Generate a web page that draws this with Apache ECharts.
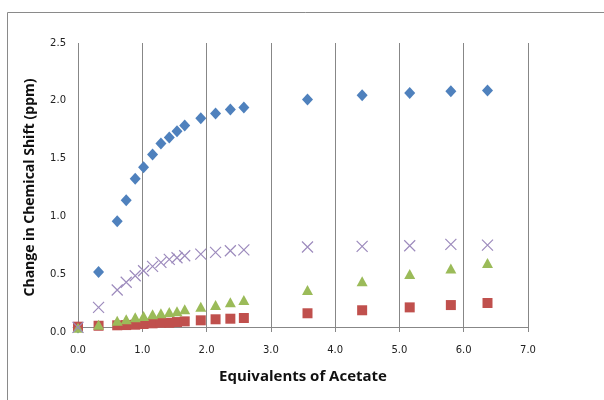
<!DOCTYPE html>
<html><head><meta charset="utf-8">
<script src="https://cdn.jsdelivr.net/npm/echarts@6/dist/echarts.min.js"></script>
<style>html,body{margin:0;padding:0;background:#fff}#c{width:604px;height:400px}</style>
</head><body><div id="c"></div>
<script>
const xVals = [0, 0.32, 0.61, 0.75, 0.89, 1.02, 1.16, 1.29, 1.42, 1.54, 1.66, 1.91, 2.14, 2.37, 2.58, 3.57, 4.42, 5.16, 5.80, 6.37];
const blueVals = [0.04, 0.52, 0.957, 1.14, 1.325, 1.426, 1.536, 1.631, 1.683, 1.737, 1.786, 1.85, 1.89, 1.925, 1.942, 2.011, 2.048, 2.068, 2.083, 2.089];
const redVals = [0.046, 0.054, 0.058, 0.06, 0.063, 0.069, 0.075, 0.08, 0.08, 0.086, 0.092, 0.101, 0.11, 0.115, 0.121, 0.162, 0.188, 0.213, 0.233, 0.251];
const greenVals = [0.037, 0.063, 0.098, 0.11, 0.127, 0.138, 0.153, 0.162, 0.173, 0.18, 0.196, 0.219, 0.233, 0.257, 0.277, 0.363, 0.438, 0.501, 0.55, 0.596];
const purpleVals = [0.04, 0.213, 0.363, 0.43, 0.487, 0.53, 0.568, 0.602, 0.628, 0.642, 0.66, 0.674, 0.689, 0.703, 0.711, 0.735, 0.741, 0.746, 0.758, 0.752];
const xTitle = 'Equivalents of Acetate';
const yTitle = 'Change in Chemical Shift (ppm)';

const pairs = v => xVals.map((x, i) => [x, v[i]]);
const chart = echarts.init(document.getElementById('c'), null, {renderer: 'canvas'});
const gray = '#878787';
const labelFont = {fontFamily: 'DejaVu Sans', fontSize: 10, color: '#222'};
chart.setOption({
  animation: false,
  graphic: [
    {type: 'line', shape: {x1: 7.5, y1: 12.5, x2: 604, y2: 12.5}, style: {stroke: '#8a8a8a', lineWidth: 1}},
    {type: 'line', shape: {x1: 7.5, y1: 12.5, x2: 7.5, y2: 400}, style: {stroke: '#8a8a8a', lineWidth: 1}}
  ],
  grid: {left: 78, right: 76, top: 43, bottom: 68},
  xAxis: {
    type: 'value', min: 0, max: 7, interval: 1,
    offset: -5,
    name: xTitle, nameLocation: 'middle', nameGap: 42,
    nameTextStyle: {fontFamily: 'Open Sans', fontWeight: 'bold', fontSize: 15, color: '#111'},
    axisLine: {show: true, lineStyle: {color: gray, width: 1}},
    axisTick: {show: false},
    splitLine: {show: true, lineStyle: {color: gray, width: 1}},
    axisLabel: Object.assign({margin: 18, formatter: v => v.toFixed(1)}, labelFont)
  },
  yAxis: {
    type: 'value', min: 0, max: 2.5, interval: 0.5,
    name: yTitle, nameLocation: 'middle', nameGap: 41,
    nameTextStyle: {fontFamily: 'Open Sans', fontWeight: 'bold', fontSize: 14, color: '#111'},
    axisLine: {show: false},
    axisTick: {show: false},
    splitLine: {show: false},
    axisLabel: Object.assign({margin: 12, formatter: v => v.toFixed(1)}, labelFont)
  },
  series: [
    {type: 'scatter', data: pairs(blueVals), symbol: 'diamond', symbolSize: [11, 12], itemStyle: {color: '#4F81BD', opacity: 1}},
    {type: 'scatter', data: pairs(redVals), symbol: 'rect', symbolSize: 10, itemStyle: {color: '#C0504D', opacity: 1}},
    {type: 'scatter', data: pairs(greenVals), symbol: 'triangle', symbolSize: [11, 10], itemStyle: {color: '#9BBB59', opacity: 1}},
    {type: 'scatter', data: pairs(purpleVals), symbol: 'path://M0,0L10,10M10,0L0,10', symbolSize: 11,
     itemStyle: {color: 'rgba(0,0,0,0)', borderColor: '#9D8BBD', borderWidth: 1.2, opacity: 1}}
  ]
});
</script></body></html>
